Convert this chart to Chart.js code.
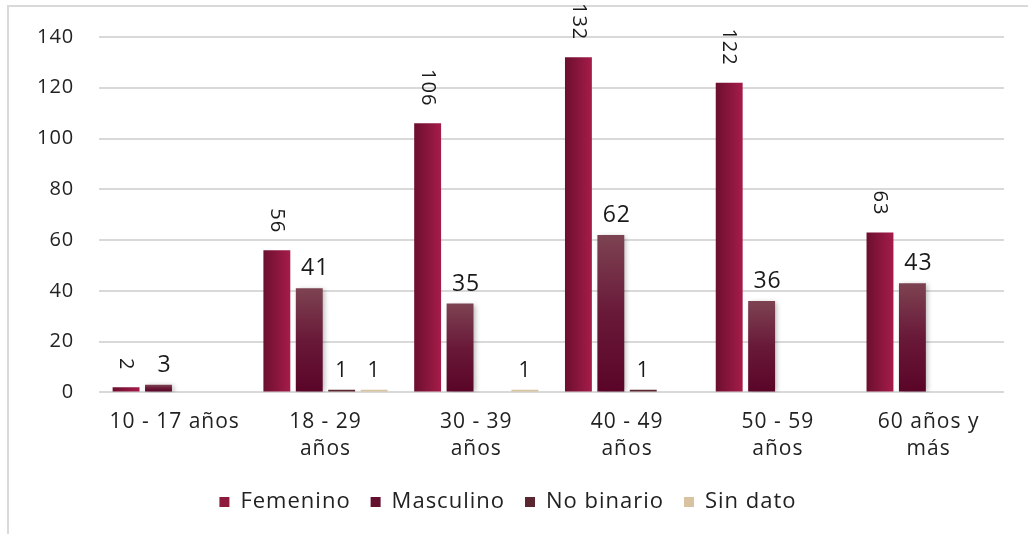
<!DOCTYPE html>
<html><head><meta charset="utf-8">
<script src="https://cdn.jsdelivr.net/npm/chart.js@4"></script>
<style>
html,body{margin:0;padding:0;background:#fff;}
#wrap{position:absolute;left:0;top:0;width:1028px;height:534px;}
#frame{position:absolute;left:7px;top:5px;width:1030px;height:540px;border-left:2px solid #d9d9d9;border-top:2px solid #d9d9d9;}
canvas{position:absolute;left:0;top:0;}
</style></head>
<body><div id="wrap"><div id="frame"></div><canvas id="c" width="1028" height="534"></canvas></div>
<script>
const categories = [["10 - 17 años"], ["18 - 29", "años"], ["30 - 39", "años"], ["40 - 49", "años"], ["50 - 59", "años"], ["60 años y", "más"]];
const seriesNames = ["Femenino", "Masculino", "No binario", "Sin dato"];
const femenino = [2, 56, 106, 132, 122, 63];
const masculino = [3, 41, 35, 62, 36, 43];
const noBinario = [0, 1, 0, 1, 0, 0];
const sinDato = [0, 1, 1, 0, 0, 0];
const yTicks = [0, 20, 40, 60, 80, 100, 120, 140];

const FONT = "'Open Sans', 'Noto Sans', sans-serif";
const legendColors = ["#8e1a3e", "#66102f", "#5a2630", "#d8c3a0"];
const SPACING = "1px";

const canvas = document.getElementById("c");

const spacingPlugin = {
  id: "letterSpacing",
  beforeUpdate(chart) { chart.ctx.letterSpacing = SPACING; },
  beforeLayout(chart) { chart.ctx.letterSpacing = SPACING; },
  beforeDraw(chart) { chart.ctx.letterSpacing = SPACING; }
};

const gradientPlugin = {
  id: "barGradients",
  beforeDatasetDraw(chart, args) {
    const c = chart.ctx;
    const meta = args.meta;
    if (args.index === 0) {
      meta.data.forEach(el => {
        const x0 = el.x - el.width / 2, x1 = el.x + el.width / 2;
        const g = c.createLinearGradient(x0, 0, x1, 0);
        g.addColorStop(0, "#6c0f2e");
        g.addColorStop(1, "#a51c49");
        el.options = Object.assign({}, el.options, { backgroundColor: g });
      });
    } else if (args.index === 1) {
      meta.data.forEach(el => {
        const g = c.createLinearGradient(0, el.y, 0, el.base);
        g.addColorStop(0, "#7d4352");
        g.addColorStop(0.5, "#691938");
        g.addColorStop(1, "#5a0528");
        el.options = Object.assign({}, el.options, { backgroundColor: g });
      });
      c.save();
      c.shadowColor = "rgba(0,0,0,0.28)";
      c.shadowBlur = 5;
      c.shadowOffsetX = 2;
      c.shadowOffsetY = 1;
    }
  },
  afterDatasetDraw(chart, args) {
    if (args.index === 1) chart.ctx.restore();
  }
};

const labelPlugin = {
  id: "valueLabels",
  afterDatasetsDraw(chart) {
    const c = chart.ctx;
    chart.data.datasets.forEach((ds, di) => {
      const meta = chart.getDatasetMeta(di);
      meta.data.forEach((el, i) => {
        const v = ds.data[i];
        if (!v) return;
        c.save();
        c.letterSpacing = SPACING;
        c.fillStyle = "#1a1a1a";
        if (di === 0) {
          c.font = "20px " + FONT;
          c.translate(el.x, el.y - 17);
          c.rotate(Math.PI / 2);
          c.textAlign = "right";
          c.textBaseline = "middle";
          c.fillText(String(v), 0, 0);
        } else {
          c.font = (di === 1 ? "23px " : "21px ") + FONT;
          c.textAlign = "center";
          c.textBaseline = "bottom";
          c.fillText(String(v), el.x + (di === 1 ? 6 : 0), el.y - 8);
        }
        c.restore();
      });
    });
  }
};

new Chart(canvas, {
  type: "bar",
  data: {
    labels: categories,
    datasets: [
      { label: seriesNames[0], data: femenino, backgroundColor: "#8e1a3e", borderWidth: 0 },
      { label: seriesNames[1], data: masculino, backgroundColor: "#66102f", borderWidth: 0 },
      { label: seriesNames[2], data: noBinario, backgroundColor: "#5a2630", borderWidth: 0 },
      { label: seriesNames[3], data: sinDato, backgroundColor: "#d8c3a0", borderWidth: 0 }
    ]
  },
  options: {
    responsive: false,
    animation: false,
    devicePixelRatio: 1,
    layout: { padding: { left: 12, right: 24, top: 35, bottom: 11 } },
    datasets: { bar: { categoryPercentage: 0.86, barPercentage: 0.83 } },
    scales: {
      x: {
        grid: { display: false },
        border: { display: false },
        ticks: { color: "#222", font: { family: FONT, size: 21, lineHeight: 1.3 }, padding: 8, maxRotation: 0, autoSkip: false }
      },
      y: {
        min: 0, max: 140,
        afterBuildTicks(axis) { axis.ticks = yTicks.map(v => ({ value: v })); },
        grid: { color: "#d9d9d9", lineWidth: 2, drawTicks: false },
        border: { display: false },
        ticks: { color: "#222", font: { family: FONT, size: 20 }, padding: 25 }
      }
    },
    plugins: {
      legend: {
        position: "bottom",
        labels: {
          color: "#222",
          font: { family: FONT, size: 22 },
          boxWidth: 10, boxHeight: 10, padding: 20,
          generateLabels(chart) {
            return seriesNames.map((n, i) => ({ text: n, fillStyle: legendColors[i], strokeStyle: legendColors[i], lineWidth: 0, datasetIndex: i, fontColor: "#222" }));
          }
        }
      },
      tooltip: { enabled: false }
    }
  },
  plugins: [spacingPlugin, gradientPlugin, labelPlugin]
});
</script>
</body></html>
